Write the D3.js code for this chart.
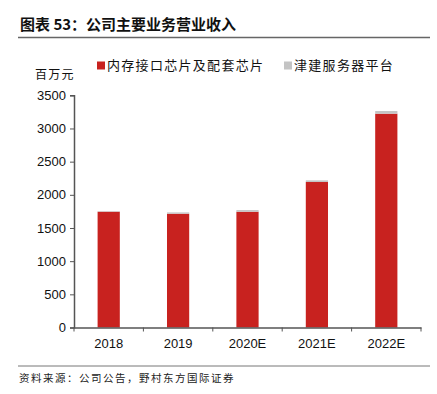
<!DOCTYPE html>
<html><head><meta charset="utf-8">
<script src="https://cdn.jsdelivr.net/npm/d3@7"></script>
<style>body{margin:0;background:#fff}svg{display:block}</style>
</head><body>
<script>
const categories = ["2018","2019","2020E","2021E","2022E"];
const memoryChips = [1745, 1715, 1745, 2193, 3223];
const jintPlatform = [8, 20, 25, 25, 40];
const seriesNames = ["内存接口芯片及配套芯片","津建服务器平台"];
const yTicks = [0,500,1000,1500,2000,2500,3000,3500];
const colors = ["#C8221F","#C4C4C4"];

const W=437,H=394;
const svg=d3.select("body").append("svg").attr("width",W).attr("height",H);
const cjk='"Noto Sans CJK SC","Noto Sans CJK JP",sans-serif';

const title=svg.append("text").attr("x",20).attr("y",30).text("图表 53：公司主要业务营业收入")
  .attr("font-family",cjk).attr("font-size",15).attr("font-weight","bold").attr("fill","#111");
svg.append("line").attr("x1",18).attr("x2",430).attr("y1",37.5).attr("y2",37.5).attr("stroke","#666").attr("stroke-width",1.6);

const x=d3.scaleBand().domain(categories).range([74,421]).paddingInner(0.68).paddingOuter(0.34);
const xAxisScale=d3.scaleBand().domain(categories).range([74,421]);
const y=d3.scaleLinear().domain([0,3500]).range([327.5,95.3]);

const data=categories.map((c,i)=>({c,a:memoryChips[i],b:jintPlatform[i]}));
const stack=d3.stack().keys(["a","b"])(data);
svg.append("g").selectAll("g").data(stack).join("g").attr("fill",(d,i)=>colors[i])
  .selectAll("rect").data(d=>d).join("rect")
  .attr("x",d=>x(d.data.c)).attr("width",x.bandwidth())
  .attr("y",d=>y(d[1])).attr("height",d=>y(d[0])-y(d[1]));

const ya=svg.append("g").attr("transform","translate(74,0)")
  .call(d3.axisLeft(y).tickValues(yTicks).tickSize(4).tickPadding(4).tickFormat(d3.format("d")));
ya.select(".domain").attr("stroke","#555").attr("stroke-width",1.5);
ya.selectAll(".tick line").attr("stroke","#555");
ya.selectAll("text").attr("font-family","Arial,'Liberation Sans',sans-serif").attr("font-size",13).attr("fill","#111");

const xa=svg.append("g").attr("transform","translate(0,327.5)")
  .call(d3.axisBottom(xAxisScale).tickSize(0).tickPadding(11));
xa.select(".domain").attr("stroke","#555").attr("stroke-width",1.5);
xa.selectAll("text").attr("font-family","Arial,'Liberation Sans',sans-serif").attr("font-size",13).attr("fill","#111");
const bounds=[...categories.map(c=>xAxisScale(c)), xAxisScale(categories[categories.length-1])+xAxisScale.bandwidth()];
xa.selectAll(".sep").data(bounds).join("line").attr("class","sep")
  .attr("x1",d=>d).attr("x2",d=>d).attr("y1",0).attr("y2",4).attr("stroke","#555");

svg.append("text").attr("x",35).attr("y",79).text("百万元").attr("font-family",cjk).attr("font-size",12).attr("letter-spacing",1.3).attr("fill","#111");

const leg=[{x:97,i:0},{x:284,i:1}];
leg.forEach(l=>{
  svg.append("rect").attr("x",l.x).attr("y",61.5).attr("width",8).attr("height",8).attr("fill",colors[l.i]);
  svg.append("text").attr("x",l.x+10).attr("y",70).text(seriesNames[l.i]).attr("font-family",cjk).attr("font-size",13).attr("letter-spacing",1.3).attr("fill","#111");
});

svg.append("line").attr("x1",18).attr("x2",430).attr("y1",366).attr("y2",366).attr("stroke","#777").attr("stroke-width",1);
svg.append("text").attr("x",19).attr("y",382).text("资料来源：公司公告，野村东方国际证券").attr("font-family",cjk).attr("font-size",10.5).attr("letter-spacing",1.5).attr("fill","#222");
</script>
</body></html>
